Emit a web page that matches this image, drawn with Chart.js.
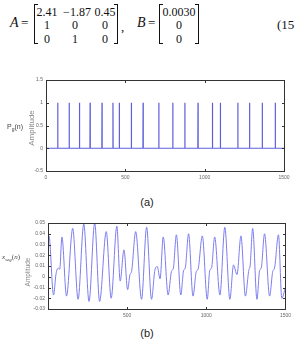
<!DOCTYPE html>
<html>
<head>
<meta charset="UTF-8">
<title>Pulse train and speech segment</title>
<script src="https://cdn.jsdelivr.net/npm/chart.js"></script>
<style>
  body { margin:0; width:295px; height:339px; overflow:hidden; background:#fff; position:relative; }
  .abs { position:absolute; white-space:nowrap; }
  #eq { position:absolute; left:0; top:0; width:295px; height:50px; font-family:"Liberation Serif", serif; color:#111; }
  .br { position:absolute; border:1px solid #111; width:3px; }
  .brl { border-right:none; }
  .brr { border-left:none; }
  .cell { position:absolute; font-size:12px; text-align:center; width:34px; line-height:14px; }
  canvas { position:absolute; left:0; }
  .ylab { position:absolute; transform:translate(-50%,-50%) rotate(-90deg); font-family:"Liberation Sans", sans-serif; color:#8a8a8a; white-space:nowrap; }
  .cap { position:absolute; transform:translate(-50%,-50%); font-family:"Liberation Sans", sans-serif; font-size:11px; color:#222; }
</style>
</head>
<body>
<div id="eq">
  <span class="abs" style="left:10px;top:15px;font-size:14px;line-height:16px;font-style:italic">A</span>
  <span class="abs" style="left:21px;top:15px;font-size:13px;line-height:16px">=</span>
  <div class="br brl" style="left:34px;top:4px;height:38px"></div>
  <div class="cell" style="left:30px;top:5px">2.41</div>
  <div class="cell" style="left:60px;top:5px">&minus;1.87</div>
  <div class="cell" style="left:88px;top:5px">0.45</div>
  <div class="cell" style="left:30px;top:18px">1</div>
  <div class="cell" style="left:58px;top:18px">0</div>
  <div class="cell" style="left:88px;top:18px">0</div>
  <div class="cell" style="left:30px;top:32px">0</div>
  <div class="cell" style="left:58px;top:32px">1</div>
  <div class="cell" style="left:88px;top:32px">0</div>
  <div class="br brr" style="left:114px;top:4px;height:38px"></div>
  <span class="abs" style="left:121px;top:19px;font-size:13px;line-height:16px">,</span>
  <span class="abs" style="left:137px;top:15px;font-size:14px;line-height:16px;font-style:italic">B</span>
  <span class="abs" style="left:148px;top:15px;font-size:13px;line-height:16px">=</span>
  <div class="br brl" style="left:159px;top:4px;height:38px"></div>
  <div class="cell" style="left:162px;top:5px">0.0030</div>
  <div class="cell" style="left:162px;top:18px">0</div>
  <div class="cell" style="left:162px;top:32px">0</div>
  <div class="br brr" style="left:195px;top:4px;height:38px"></div>
  <span class="abs" style="left:277px;top:17px;font-size:13px;line-height:16px">(15</span>
</div>

<canvas id="pulseChart" width="295" height="112" style="top:74px"></canvas>
<div class="ylab" style="left:31px;top:128px;font-size:8px">Amplitude</div>
<div class="abs" style="left:7px;top:123px;font-family:'Liberation Sans',sans-serif;font-size:7px;color:#444">P<sub style="font-size:5px">g</sub>(n)</div>
<div class="cap" style="left:147px;top:202px">(a)</div>

<canvas id="segChart" width="295" height="110" style="top:215px"></canvas>
<div class="ylab" style="left:27px;top:272px;font-size:6.5px">Amplitude</div>
<div class="abs" style="left:2px;top:253px;font-family:'Liberation Serif',serif;font-size:7px;color:#444"><i>x</i><sub style="font-size:5px"><i>seg</i></sub>(<i>n</i>)</div>
<div class="cap" style="left:147px;top:333px">(b)</div>

<script>
// pulse train p_g(n): positions and heights of the impulses
const pulseN = [74, 146, 211, 278, 353, 422, 462, 538, 612, 711, 799, 875, 958, 1049, 1099, 1209, 1283, 1363, 1445];
const pulseAmp = [1, 1, 1, 1, 1, 1, 1, 1, 1, 1, 1, 1, 1, 1, 1, 1, 1, 1, 1];
const xTicks = [0, 500, 1000, 1500];
const pulseYTicks = [-0.5, 0, 0.5, 1, 1.5];

// segment x_seg(n)
const segN = [0, 6, 35, 50, 58, 66, 74, 88, 117, 156, 190, 226, 259, 295, 326, 368, 399, 435, 456, 480,
  503, 518, 528, 554, 591, 623, 654, 675, 690, 708, 728, 759, 780, 792, 811, 839, 857, 867, 888, 916,
  937, 948, 975, 1006, 1022, 1033, 1053, 1086, 1117, 1149, 1172, 1194, 1219, 1247, 1270, 1276, 1293, 1320, 1337, 1347,
  1368, 1400, 1420, 1431, 1456, 1477, 1500];
const segVal = [0.035, 0.038, -0.017, 0.002, 0.007, 0.008, 0.007, 0.037, -0.018, 0.045, -0.021, 0.049, -0.023, 0.050, -0.023, 0.042, -0.020, 0.047, -0.004, 0.025,
  -0.012, 0.002, 0.005, 0.042, -0.021, 0.046, -0.021, 0.006, 0.0095, -0.002, 0.037, -0.017, 0.005, 0.008, 0.039, -0.017, 0.006, 0.008, 0.040, -0.018,
  0.005, 0.007, 0.038, -0.021, 0.006, 0.008, 0.037, -0.017, 0.046, -0.021, 0.011, 0.002, 0.038, -0.018, 0.007, 0.009, 0.045, -0.021, 0.006, 0.008,
  0.040, -0.018, 0.005, 0.008, 0.039, -0.020, -0.010];
const segXTicks = [500, 1000, 1500];
const segYTicks = [-0.03, -0.02, -0.01, 0, 0.01, 0.02, 0.03, 0.04, 0.05];

const tickFont = { family: 'Liberation Sans', size: 5 };

// box round the plot with small inward ticks on every side
const frame = {
  id: 'frame',
  afterDraw(chart) {
    const { ctx, chartArea: a, scales: { x, y } } = chart;
    const L = Math.round(a.left) + 0.5, R = Math.round(a.right) + 0.5;
    const T = Math.round(a.top) + 0.5, B = Math.round(a.bottom) + 0.5;
    ctx.save();
    ctx.strokeStyle = '#333';
    ctx.lineWidth = 1;
    ctx.strokeRect(L, T, R - L, B - T);
    ctx.beginPath();
    x.ticks.forEach(t => {
      const px = Math.round(x.getPixelForValue(t.value)) + 0.5;
      ctx.moveTo(px, T); ctx.lineTo(px, T + 2.5);
      ctx.moveTo(px, B); ctx.lineTo(px, B - 2.5);
    });
    y.ticks.forEach(t => {
      const py = Math.round(y.getPixelForValue(t.value)) + 0.5;
      ctx.moveTo(L, py); ctx.lineTo(L + 2.5, py);
      ctx.moveTo(R, py); ctx.lineTo(R - 2.5, py);
    });
    ctx.stroke();
    ctx.restore();
  }
};

function axis(ticksArr, min, max, fmt, pad, size, isY) {
  return {
    type: 'linear', min: min, max: max,
    grid: { display: false, drawTicks: false },
    border: { display: false },
    afterBuildTicks: s => { s.ticks = ticksArr.map(v => ({ value: v })); },
    afterFit: s => { if (isY) s.width = size; else s.height = size; },
    ticks: { font: tickFont, color: '#666', padding: pad, callback: fmt, maxRotation: 0, autoSkip: false }
  };
}

// impulse train as a line that jumps up at each pulse
const pulseLine = [{ x: xTicks[0], y: 0 }];
pulseN.forEach((n, i) => {
  pulseLine.push({ x: n - 1, y: 0 }, { x: n, y: pulseAmp[i] }, { x: n + 1, y: 0 });
});
pulseLine.push({ x: xTicks[xTicks.length - 1], y: 0 });

new Chart(document.getElementById('pulseChart'), {
  type: 'line',
  data: {
    datasets: [{
      data: pulseLine,
      borderColor: 'rgb(95,95,220)',
      borderWidth: 1.2,
      pointRadius: 0,
      tension: 0
    }]
  },
  options: {
    responsive: false,
    animation: false,
    devicePixelRatio: 1,
    layout: { padding: { top: 6, right: 11, left: 0, bottom: 0 } },
    plugins: { legend: { display: false }, tooltip: { enabled: false } },
    scales: {
      x: axis(xTicks, 0, 1500, v => String(v), 4, 15, false),
      y: axis(pulseYTicks, -0.5, 1.5, v => String(v), 3, 46, true)
    }
  },
  plugins: [frame]
});

new Chart(document.getElementById('segChart'), {
  type: 'line',
  data: {
    labels: segN,
    datasets: [{
      data: segN.map((n, i) => ({ x: n, y: segVal[i] })),
      borderColor: 'rgb(125,125,238)',
      borderWidth: 1,
      pointRadius: 0,
      cubicInterpolationMode: 'monotone'
    }]
  },
  options: {
    responsive: false,
    animation: false,
    devicePixelRatio: 1,
    layout: { padding: { top: 8, right: 8, left: 0, bottom: 0 } },
    plugins: { legend: { display: false }, tooltip: { enabled: false } },
    scales: {
      x: axis(segXTicks, 0, 1500, v => String(v), 4, 16, false),
      y: axis(segYTicks, -0.03, 0.05, v => (v === 0 ? '0' : v.toFixed(2)), 3, 48, true)
    }
  },
  plugins: [frame]
});
</script>
</body>
</html>
